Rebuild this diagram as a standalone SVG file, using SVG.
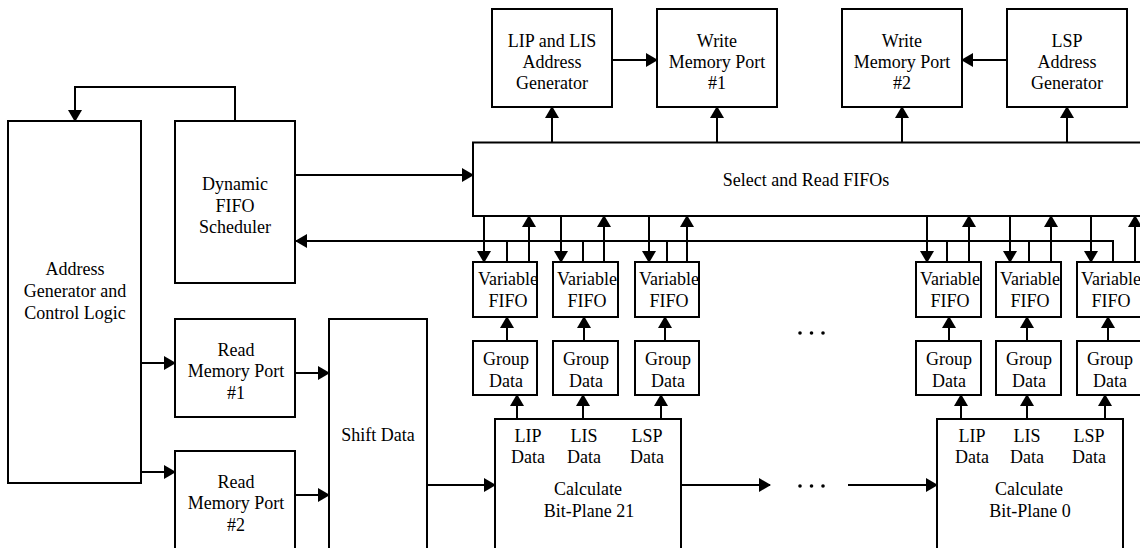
<svg xmlns="http://www.w3.org/2000/svg" width="1140" height="548" viewBox="0 0 1140 548">
<style>
.box{fill:#fff;stroke:#000;stroke-width:2}
.t{font-family:"Liberation Serif","Times New Roman",serif;font-size:18px;fill:#000;text-anchor:middle}
.c{fill:none;stroke:#000;stroke-width:2}
.a{marker-end:url(#ah)}
</style>
<defs>
<marker id="ah" viewBox="0 0 12 14" markerWidth="12" markerHeight="14" refX="11" refY="7" orient="auto" markerUnits="userSpaceOnUse">
<path d="M0,0 L12,7 L0,14 z" fill="#000"/>
</marker>
</defs>
<rect width="1140" height="548" fill="#fff"/>
<g id="addr"><rect class="box" x="8" y="121" width="133" height="362"/>
<text class="t" x="75" y="275">Address</text><text class="t" x="75" y="297">Generator and</text><text class="t" x="75" y="319">Control Logic</text></g>
<g id="sched"><rect class="box" x="175" y="121" width="120" height="162"/>
<text class="t" x="235" y="190">Dynamic</text><text class="t" x="235" y="212">FIFO</text><text class="t" x="235" y="233">Scheduler</text></g>
<g id="read1"><rect class="box" x="175" y="319" width="120" height="98"/>
<text class="t" x="236" y="356">Read</text><text class="t" x="236" y="377">Memory Port</text><text class="t" x="236" y="399">#1</text></g>
<g id="read2"><rect class="box" x="175" y="451" width="120" height="120"/>
<text class="t" x="236" y="488">Read</text><text class="t" x="236" y="509">Memory Port</text><text class="t" x="236" y="531">#2</text></g>
<g id="shift"><rect class="box" x="329" y="319" width="98" height="250"/>
<text class="t" x="378" y="441">Shift Data</text></g>
<g id="select"><rect class="box" x="473" y="142.5" width="700" height="73.5"/>
<text class="t" x="806" y="186">Select and Read FIFOs</text></g>
<g id="lipgen"><rect class="box" x="492" y="9" width="120" height="98"/>
<text class="t" x="552" y="47">LIP and LIS</text><text class="t" x="552" y="68">Address</text><text class="t" x="552" y="89">Generator</text></g>
<g id="wmp1"><rect class="box" x="657" y="9" width="120" height="98"/>
<text class="t" x="717" y="47">Write</text><text class="t" x="717" y="68">Memory Port</text><text class="t" x="717" y="89">#1</text></g>
<g id="wmp2"><rect class="box" x="842" y="9" width="120" height="98"/>
<text class="t" x="902" y="47">Write</text><text class="t" x="902" y="68">Memory Port</text><text class="t" x="902" y="89">#2</text></g>
<g id="lspgen"><rect class="box" x="1007" y="9" width="120" height="98"/>
<text class="t" x="1067" y="47">LSP</text><text class="t" x="1067" y="68">Address</text><text class="t" x="1067" y="89">Generator</text></g>
<g id="fifo1"><rect class="box" x="473" y="262" width="64" height="55"/><text class="t" x="508" y="285">Variable</text><text class="t" x="508" y="307">FIFO</text></g>
<g id="fifo2"><rect class="box" x="553" y="262" width="65" height="55"/><text class="t" x="587" y="285">Variable</text><text class="t" x="587" y="307">FIFO</text></g>
<g id="fifo3"><rect class="box" x="635" y="262" width="64" height="55"/><text class="t" x="669" y="285">Variable</text><text class="t" x="669" y="307">FIFO</text></g>
<g id="fifo4"><rect class="box" x="916" y="262" width="65" height="55"/><text class="t" x="950" y="285">Variable</text><text class="t" x="950" y="307">FIFO</text></g>
<g id="fifo5"><rect class="box" x="996" y="262" width="65" height="55"/><text class="t" x="1030" y="285">Variable</text><text class="t" x="1030" y="307">FIFO</text></g>
<g id="fifo6"><rect class="box" x="1077" y="262" width="70" height="55"/><text class="t" x="1111" y="285">Variable</text><text class="t" x="1111" y="307">FIFO</text></g>
<g id="group1"><rect class="box" x="473" y="341" width="64" height="54"/><text class="t" x="506" y="365">Group</text><text class="t" x="506" y="387">Data</text></g>
<g id="group2"><rect class="box" x="553" y="341" width="65" height="54"/><text class="t" x="586" y="365">Group</text><text class="t" x="586" y="387">Data</text></g>
<g id="group3"><rect class="box" x="635" y="341" width="64" height="54"/><text class="t" x="668" y="365">Group</text><text class="t" x="668" y="387">Data</text></g>
<g id="group4"><rect class="box" x="916" y="341" width="65" height="54"/><text class="t" x="949" y="365">Group</text><text class="t" x="949" y="387">Data</text></g>
<g id="group5"><rect class="box" x="996" y="341" width="65" height="54"/><text class="t" x="1029" y="365">Group</text><text class="t" x="1029" y="387">Data</text></g>
<g id="group6"><rect class="box" x="1077" y="341" width="70" height="54"/><text class="t" x="1110" y="365">Group</text><text class="t" x="1110" y="387">Data</text></g>
<g id="bp21"><rect class="box" x="495" y="419" width="186" height="150"/>
<text class="t" x="528" y="442">LIP</text><text class="t" x="528" y="463">Data</text>
<text class="t" x="584" y="442">LIS</text><text class="t" x="584" y="463">Data</text>
<text class="t" x="647" y="442">LSP</text><text class="t" x="647" y="463">Data</text>
<text class="t" x="588" y="495">Calculate</text><text class="t" x="589" y="517">Bit-Plane 21</text></g>
<g id="bp0"><rect class="box" x="937" y="419" width="186" height="150"/>
<text class="t" x="972" y="442">LIP</text><text class="t" x="972" y="463">Data</text>
<text class="t" x="1027" y="442">LIS</text><text class="t" x="1027" y="463">Data</text>
<text class="t" x="1089" y="442">LSP</text><text class="t" x="1089" y="463">Data</text>
<text class="t" x="1029" y="495">Calculate</text><text class="t" x="1030" y="517">Bit-Plane 0</text></g>
<g id="dots">
<circle cx="800" cy="333" r="1.8"/><circle cx="811.5" cy="333" r="1.8"/><circle cx="823" cy="333" r="1.8"/>
<circle cx="800" cy="486" r="1.8"/><circle cx="811.5" cy="486" r="1.8"/><circle cx="823" cy="486" r="1.8"/>
</g>
<g id="connectors">
<path class="c a" d="M235,121 V87 H75 V121"/>
<path class="c a" d="M295,175 H473"/>
<path class="c a" d="M1113,262 V241 H296"/>
<path class="c" d="M507,262 V241 M583,262 V241 M667,262 V241 M947,262 V241 M1029,262 V241"/>
<path class="c a" d="M484,216 V262"/><path class="c a" d="M561,216 V262"/><path class="c a" d="M649,216 V262"/>
<path class="c a" d="M927,216 V262"/><path class="c a" d="M1010,216 V262"/><path class="c a" d="M1091,216 V262"/>
<path class="c a" d="M529,262 V216"/><path class="c a" d="M604,262 V216"/><path class="c a" d="M687,262 V216"/>
<path class="c a" d="M969,262 V216"/><path class="c a" d="M1051,262 V216"/><path class="c a" d="M1135,262 V216"/>
<path class="c a" d="M507,341 V317"/><path class="c a" d="M584,341 V317"/><path class="c a" d="M665,341 V317"/>
<path class="c a" d="M949,341 V317"/><path class="c a" d="M1027,341 V317"/><path class="c a" d="M1108,341 V317"/>
<path class="c a" d="M517,419 V395"/><path class="c a" d="M583,419 V395"/><path class="c a" d="M661,419 V395"/>
<path class="c a" d="M961,419 V395"/><path class="c a" d="M1027,419 V395"/><path class="c a" d="M1105,419 V395"/>
<path class="c a" d="M552,142.5 V107"/><path class="c a" d="M717,142.5 V107"/><path class="c a" d="M902,142.5 V107"/><path class="c a" d="M1067,142.5 V107"/>
<path class="c a" d="M612,60 H657"/><path class="c a" d="M1007,60 H962"/>
<path class="c a" d="M141,363 H175"/><path class="c a" d="M141,472 H175"/>
<path class="c a" d="M295,373 H329"/><path class="c a" d="M295,495 H329"/>
<path class="c a" d="M427,485 H495"/>
<path class="c a" d="M681,485 H770"/>
<path class="c a" d="M848,485 H937"/>
</g>
</svg>
